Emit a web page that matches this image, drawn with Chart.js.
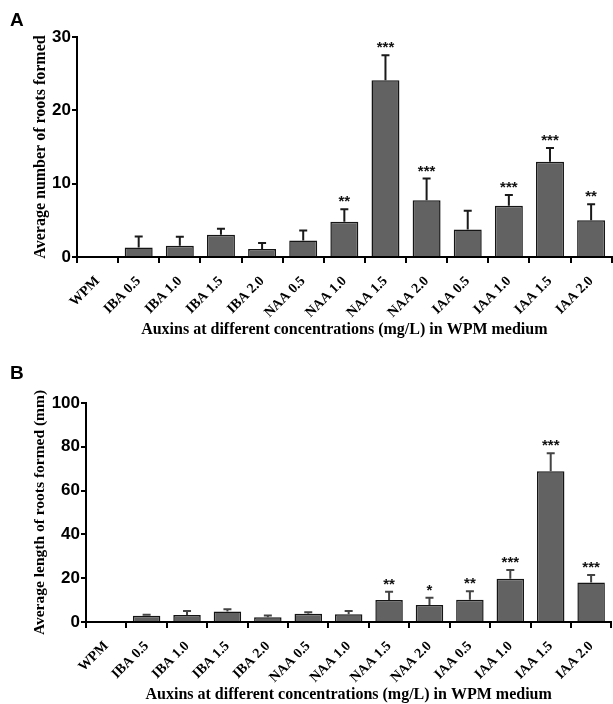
<!DOCTYPE html>
<html>
<head>
<meta charset="utf-8">
<script src="https://cdn.jsdelivr.net/npm/chart.js@4.4.0/dist/chart.umd.min.js"></script>
<style>
  body { margin: 0; background: #fff; }
  #wrap { position: relative; width: 613px; height: 704px; }
  canvas { position: absolute; left: 0; }
  .panel { position: absolute; left: 10px; font: bold 19px "Liberation Sans", Arial, sans-serif; color: #000; }
</style>
</head>
<body>
<div id="wrap">
  <canvas id="chartA" width="613" height="352" style="top:0"></canvas>
  <canvas id="chartB" width="613" height="352" style="top:352px"></canvas>
  <div class="panel" style="top:9px">A</div>
  <div class="panel" style="top:362px">B</div>
</div>
<script>
// datos
const categories = ['WPM', 'IBA 0.5', 'IBA 1.0', 'IBA 1.5', 'IBA 2.0', 'NAA 0.5', 'NAA 1.0',
                    'NAA 1.5', 'NAA 2.0', 'IAA 0.5', 'IAA 1.0', 'IAA 1.5', 'IAA 2.0'];

const numMean = [0, 1.3, 1.55, 3.05, 1.1, 2.25, 4.8, 24.1, 7.75, 3.75, 7.0, 13.0, 5.0];
const numErr  = [0, 1.5, 1.2, 0.8, 0.8, 1.35, 1.7, 3.4, 2.95, 2.55, 1.45, 1.85, 2.2];
const numSig  = ['', '', '', '', '', '', '**', '***', '***', '', '***', '***', '**'];
const numTicks = [0, 10, 20, 30];

const lenMean = [0, 2.8, 3.2, 4.8, 2.2, 3.8, 3.5, 10.0, 7.8, 10.2, 19.7, 68.8, 18.0];
const lenErr  = [0, 0.5, 1.8, 1.0, 0.8, 0.6, 1.5, 3.8, 3.3, 3.8, 4.1, 8.2, 3.5];
const lenSig  = ['', '', '', '', '', '', '', '**', '*', '**', '***', '***', '***'];
const lenTicks = [0, 20, 40, 60, 80, 100];

const xTitle = 'Auxins at different concentrations (mg/L) in WPM medium';

// ===== BARRAS DE ERROR + ASTERISCOS =====
const errorBars = {
    id: 'errorBars',
    afterDatasetsDraw(chart, args, opts) {
        const ctx = chart.ctx;
        const yScale = chart.scales.y;
        const meta = chart.getDatasetMeta(0);
        ctx.save();
        meta.data.forEach((bar, i) => {
            const err = opts.err[i];
            const top = yScale.getPixelForValue(opts.mean[i] + err);
            if (err > 0) {
                ctx.strokeStyle = opts.color;
                ctx.lineWidth = 2;
                ctx.beginPath();
                ctx.moveTo(bar.x, bar.y);
                ctx.lineTo(bar.x, top);
                ctx.moveTo(bar.x - 4, top);
                ctx.lineTo(bar.x + 4, top);
                ctx.stroke();
            }
            if (opts.sig[i]) {
                ctx.fillStyle = '#111';
                ctx.font = 'bold 15px "Liberation Sans", Arial, sans-serif';
                ctx.textAlign = 'center';
                ctx.textBaseline = 'alphabetic';
                ctx.fillText(opts.sig[i], bar.x, top - 3);
            }
        });
        ctx.restore();
    }
};

function makeChart(id, mean, err, sig, ticks, yTitle, box) {
    const yMax = ticks[ticks.length - 1];
    return new Chart(document.getElementById(id), {
        type: 'bar',
        data: {
            labels: categories,
            datasets: [{
                data: mean,
                backgroundColor: '#626262',
                borderColor: '#151515',
                borderWidth: 1.5,
                barPercentage: 0.68,
                categoryPercentage: 1.0
            }]
        },
        options: {
            responsive: false,
            animation: false,
            layout: { padding: { top: box.top, left: 0, right: 0, bottom: 0 } },
            plugins: {
                legend: { display: false },
                tooltip: { enabled: false },
                errorBars: { mean: mean, err: err, sig: sig, color: box.errColor }
            },
            scales: {
                x: {
                    afterFit: s => { s.height = box.xHeight; },
                    border: { display: true, color: '#000', width: 2 },
                    grid: { display: true, drawOnChartArea: false, drawTicks: true, tickLength: 6, color: '#000', lineWidth: 2 },
                    ticks: {
                        color: '#000',
                        minRotation: 45,
                        maxRotation: 45,
                        padding: 10,
                        font: { family: '"Liberation Serif", "Times New Roman", serif', weight: 'bold', size: 14 }
                    },
                    title: {
                        display: true,
                        text: xTitle,
                        color: '#000',
                        padding: { top: 0, bottom: box.xTitlePad },
                        font: { family: '"Liberation Serif", "Times New Roman", serif', weight: 'bold', size: 16 }
                    }
                },
                y: {
                    min: 0,
                    max: yMax,
                    afterFit: s => { s.width = box.left; },
                    afterBuildTicks: s => { s.ticks = ticks.map(v => ({ value: v })); },
                    border: { display: true, color: '#000', width: 2 },
                    grid: { display: true, drawOnChartArea: false, drawTicks: true, tickLength: 5, color: '#000', lineWidth: 2 },
                    ticks: {
                        color: '#000',
                        padding: 1,
                        font: { family: '"Liberation Sans", Arial, sans-serif', weight: 'bold', size: 17 }
                    },
                    title: {
                        display: true,
                        text: yTitle,
                        color: '#000',
                        padding: { top: box.yTitlePad, bottom: 0 },
                        font: { family: '"Liberation Serif", "Times New Roman", serif', weight: 'bold', size: box.yTitleSize }
                    }
                }
            }
        },
        plugins: [errorBars]
    });
}

makeChart('chartA', numMean, numErr, numSig, numTicks, 'Average number of roots formed',
    { top: 37, left: 77, xHeight: 95, xTitlePad: 13, yTitlePad: 31, yTitleSize: 16, errColor: '#1a1a1a' });

makeChart('chartB', lenMean, lenErr, lenSig, lenTicks, 'Average length of roots formed (mm)',
    { top: 51, left: 86, xHeight: 82, xTitlePad: 0, yTitlePad: 31, yTitleSize: 15.5, errColor: '#444' });
</script>
</body>
</html>
